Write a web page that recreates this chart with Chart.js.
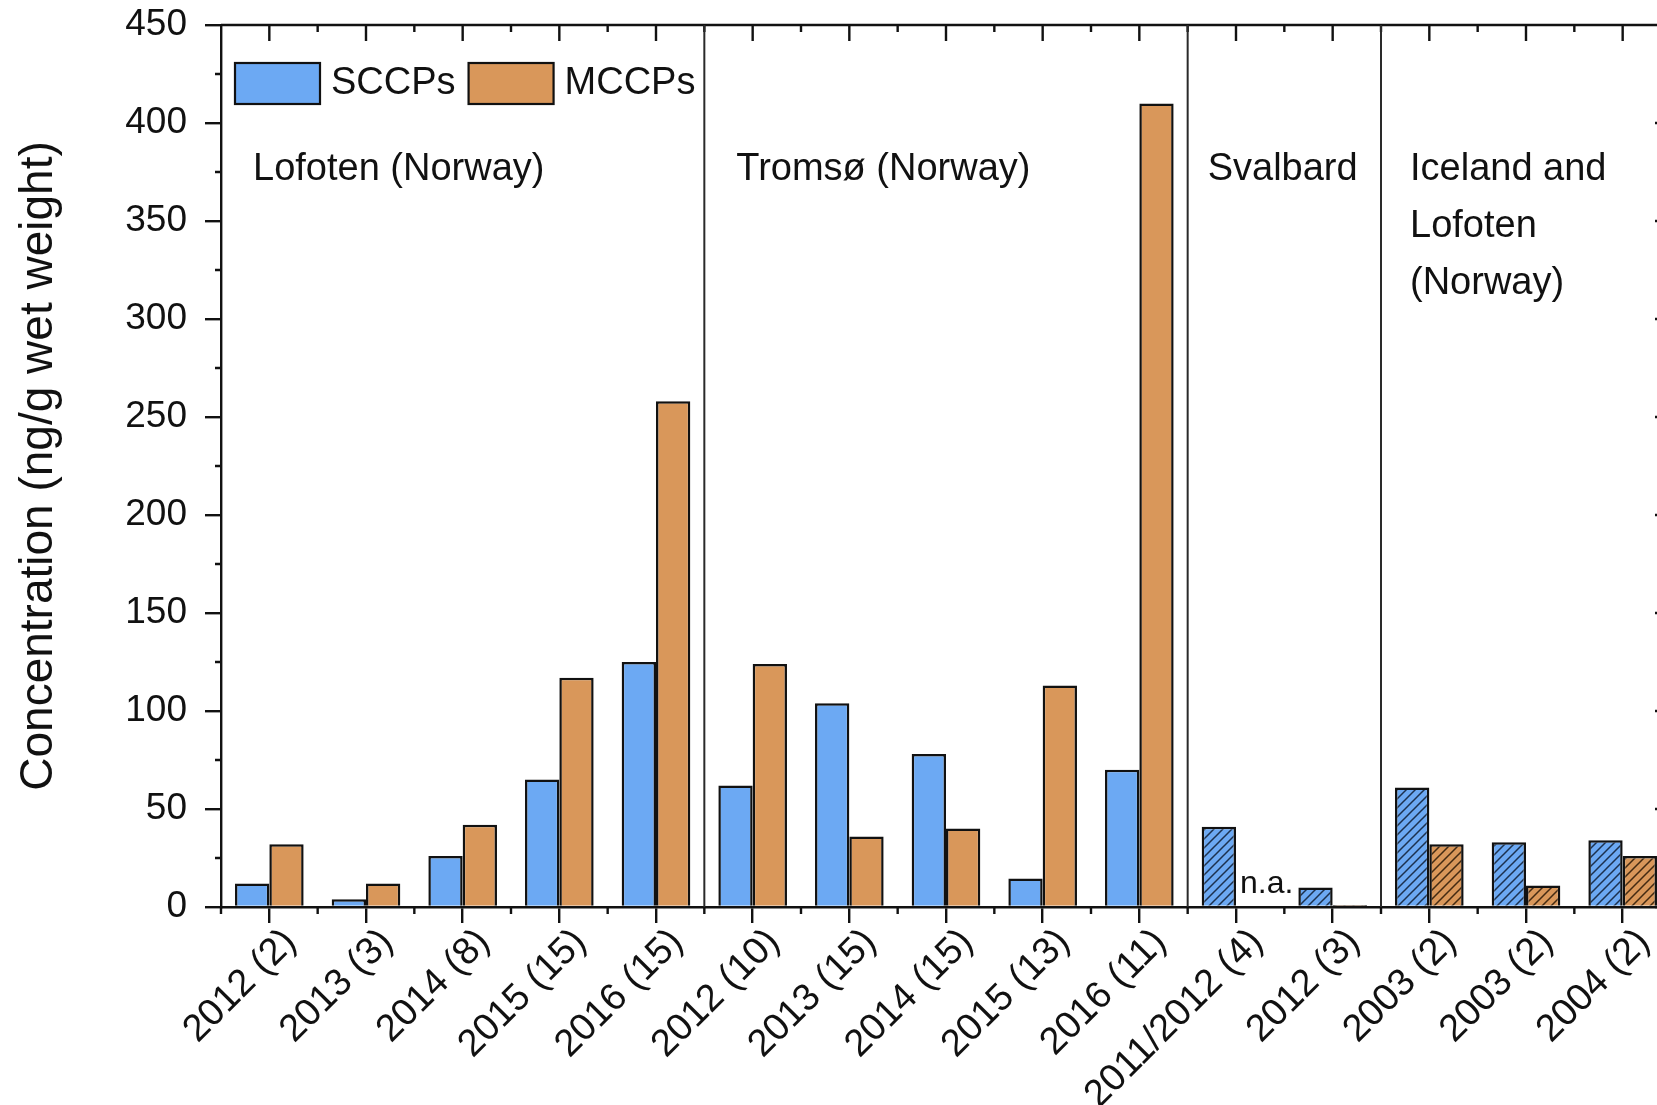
<!DOCTYPE html>
<html>

<head>
    <title>SCCPs and MCCPs concentrations</title>
    <style>
        html,
        body {
            margin: 0;
            padding: 0;
            background-color: #fff;
            overflow: hidden;
        }

        /* the figure is cropped on the right, so the canvas runs a bit past the window */
        #wrap {
            position: relative;
            width: 1680px;
            height: 1105px;
        }
    </style>
</head>

<body>
    <div id="wrap"><canvas id="chart"></canvas></div>

    <script src="https://cdn.jsdelivr.net/npm/chart.js"></script>
    <script>
        const categories = [
            '2012 (2)', '2013 (3)', '2014 (8)', '2015 (15)', '2016 (15)',
            '2012 (10)', '2013 (15)', '2014 (15)', '2015 (13)', '2016 (11)',
            '2011/2012 (4)', '2012 (3)',
            '2003 (2)', '2003 (2)', '2004 (2)',
        ];
        const sccpValues = [12, 4, 26, 65, 125, 62, 104, 78, 14.5, 70, 41, 10, 61, 33, 34];
        const mccpValues = [32, 12, 42, 117, 258, 124, 36, 40, 113, 410, null, 1, 32, 11, 26];

        // bars from this index on are hatched (Svalbard, Iceland and Lofoten)
        const hatchedFrom = 10;

        const groupStarts = [0, 5, 10, 12];
        const groupLabels = [
            ['Lofoten (Norway)'],
            ['Tromsø (Norway)'],
            ['Svalbard'],
            ['Iceland and', 'Lofoten', '(Norway)'],
        ];
        const naIndex = 10;

        const yMin = 0;
        const yMax = 450;
        const yStep = 50;

        const FONT = "'Liberation Sans', Arial, sans-serif";
        const INK = '#111';
        const BLUE = '#6ca9f3';
        const ORANGE = '#d9975a';

        const makeHatch = (base, line) => {
            const c = document.createElement('canvas');
            c.width = 9;
            c.height = 9;
            const g = c.getContext('2d');
            g.fillStyle = base;
            g.fillRect(0, 0, 9, 9);
            g.strokeStyle = line;
            g.lineWidth = 1.5;
            g.beginPath();
            g.moveTo(-1, 10); g.lineTo(10, -1);
            g.moveTo(-1, 1); g.lineTo(1, -1);
            g.moveTo(8, 10); g.lineTo(10, 8);
            g.stroke();
            return g.createPattern(c, 'repeat');
        };
        const blueHatch = makeHatch(BLUE, 'rgba(20,35,60,0.9)');
        const orangeHatch = makeHatch(ORANGE, 'rgba(50,30,10,0.9)');

        const fillFor = (plain, hatch) => (ctx) =>
            ctx.dataIndex !== undefined && ctx.dataIndex >= hatchedFrom ? hatch : plain;

        // frame, minor ticks, separators, region labels, legend
        const decorations = {
            id: 'decorations',
            afterDatasetsDraw(chart) {
                const { ctx, chartArea: a, scales: { x, y } } = chart;
                const cw = x.getPixelForValue(1) - x.getPixelForValue(0);
                ctx.save();
                ctx.strokeStyle = INK;
                ctx.lineWidth = 2.4;
                ctx.beginPath();
                // top and right frame
                ctx.moveTo(a.left, a.top); ctx.lineTo(a.right, a.top);
                ctx.moveTo(a.right, a.top); ctx.lineTo(a.right, a.bottom);
                // top axis ticks (inward)
                categories.forEach((_, i) => {
                    const px = x.getPixelForValue(i);
                    ctx.moveTo(px, a.top); ctx.lineTo(px, a.top + 16);
                    const bx = px + cw / 2;
                    if (bx < a.right - 1) {
                        ctx.moveTo(bx, a.top); ctx.lineTo(bx, a.top + 7);
                        // bottom minor ticks
                        ctx.moveTo(bx, a.bottom); ctx.lineTo(bx, a.bottom + 7);
                    }
                });
                ctx.moveTo(a.left, a.bottom); ctx.lineTo(a.left, a.bottom + 7);
                // y minor ticks (left outward) and right axis ticks (inward)
                for (let v = yMin; v <= yMax; v += yStep / 2) {
                    const py = y.getPixelForValue(v);
                    const major = v % yStep === 0;
                    if (!major) {
                        ctx.moveTo(a.left, py); ctx.lineTo(a.left - 6, py);
                    }
                    ctx.moveTo(a.right, py); ctx.lineTo(a.right - (major ? 16 : 7), py);
                }
                ctx.stroke();

                // region separators
                ctx.strokeStyle = '#2a2a2a';
                ctx.lineWidth = 2;
                ctx.beginPath();
                groupStarts.slice(1).forEach((s) => {
                    const bx = x.getPixelForValue(s) - cw / 2;
                    ctx.moveTo(bx, a.bottom); ctx.lineTo(bx, a.top);
                });
                ctx.stroke();

                // region labels
                ctx.fillStyle = INK;
                ctx.font = `38px ${FONT}`;
                ctx.textAlign = 'left';
                ctx.textBaseline = 'alphabetic';
                const insets = [32, 32, 20, 29];
                groupStarts.forEach((s, gi) => {
                    const lx = x.getPixelForValue(s) - cw / 2 + insets[gi];
                    groupLabels[gi].forEach((line, li) => {
                        ctx.fillText(line, lx, a.top + 155 + li * 57);
                    });
                });

                // n.a. marker
                ctx.font = `32px ${FONT}`;
                ctx.fillText('n.a.', x.getPixelForValue(naIndex) + 4, y.getPixelForValue(0) - 14);

                // legend
                ctx.font = `38px ${FONT}`;
                ctx.textBaseline = 'middle';
                let lx = a.left + 14;
                const ly = a.top + 38;
                chart.data.datasets.forEach((ds) => {
                    ctx.fillStyle = ds.legendColor;
                    ctx.fillRect(lx, ly, 85, 41);
                    ctx.strokeStyle = INK;
                    ctx.lineWidth = 2.2;
                    ctx.strokeRect(lx, ly, 85, 41);
                    ctx.fillStyle = INK;
                    ctx.fillText(ds.label, lx + 96, ly + 21);
                    lx += 96 + ctx.measureText(ds.label).width + 13;
                });
                ctx.restore();
            }
        };

        new Chart(document.getElementById('chart'), {
            type: 'bar',
            data: {
                labels: categories,
                datasets: [
                    {
                        label: 'SCCPs',
                        data: sccpValues,
                        legendColor: BLUE,
                        backgroundColor: fillFor(BLUE, blueHatch),
                        borderColor: INK,
                        borderWidth: 2.5,
                    },
                    {
                        label: 'MCCPs',
                        data: mccpValues,
                        legendColor: ORANGE,
                        backgroundColor: fillFor(ORANGE, orangeHatch),
                        borderColor: INK,
                        borderWidth: 2.5,
                    },
                ]
            },
            options: {
                responsive: true,
                maintainAspectRatio: false,
                animation: false,
                layout: { padding: { top: 25, right: 9, left: 0, bottom: 0 } },
                datasets: {
                    bar: { categoryPercentage: 0.71, barPercentage: 1.0 }
                },
                plugins: {
                    legend: { display: false },
                    tooltip: { enabled: false },
                },
                scales: {
                    x: {
                        afterFit: (scale) => { scale.height = 198; },
                        border: { color: INK, width: 2.4 },
                        grid: {
                            offset: false,
                            drawOnChartArea: false,
                            color: INK,
                            lineWidth: 2.4,
                            tickLength: 16,
                        },
                        ticks: {
                            autoSkip: false,
                            minRotation: 45,
                            maxRotation: 45,
                            labelOffset: 21,
                            padding: -3,
                            color: INK,
                            font: { family: FONT, size: 38 },
                        },
                    },
                    y: {
                        min: yMin,
                        max: yMax,
                        afterFit: (scale) => {
                            scale.width = 221;
                            scale.paddingTop = 0;
                            scale.paddingBottom = 0;
                        },
                        border: { color: INK, width: 2.4 },
                        grid: {
                            drawOnChartArea: false,
                            color: INK,
                            lineWidth: 2.4,
                            tickLength: 16,
                        },
                        ticks: {
                            stepSize: yStep,
                            padding: 18,
                            color: INK,
                            font: { family: FONT, size: 37 },
                        },
                        title: {
                            display: true,
                            text: 'Concentration (ng/g wet weight)',
                            color: INK,
                            padding: { top: 12, bottom: 0 },
                            font: { family: FONT, size: 46 },
                        },
                    },
                },
            },
            plugins: [decorations],
        });
    </script>
</body>

</html>
